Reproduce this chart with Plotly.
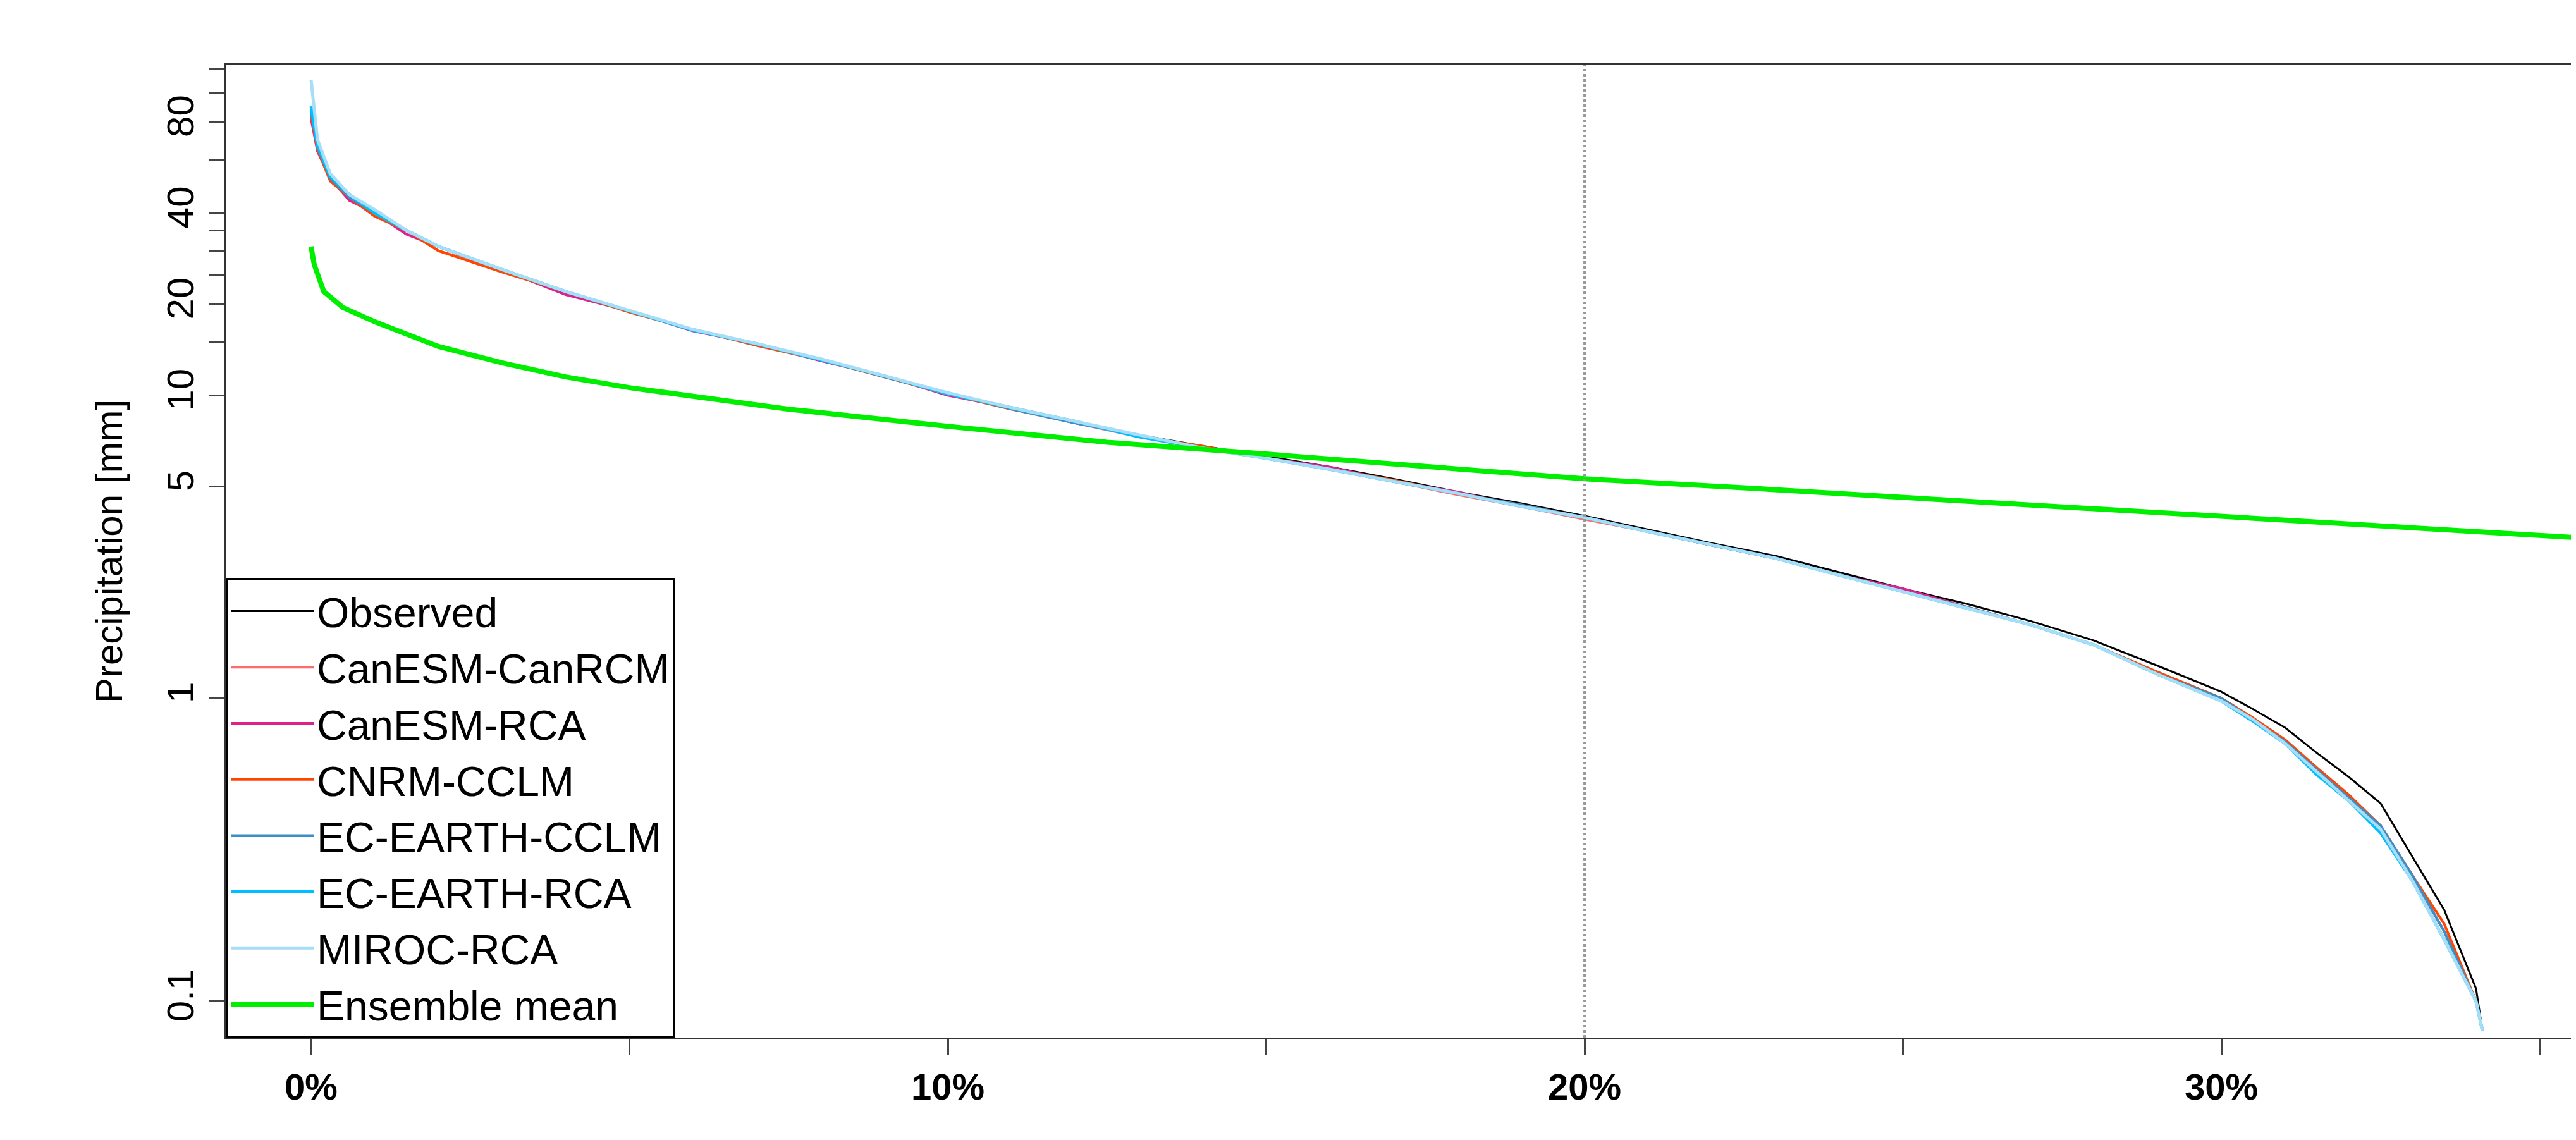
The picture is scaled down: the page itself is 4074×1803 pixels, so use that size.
import plotly.graph_objects as go

# exceedance (% of days) and precipitation (mm)
pct = [0, 0.1, 0.3, 0.6, 1, 1.5, 2, 3, 4, 5, 6, 7, 8, 9, 10, 11, 12, 13, 14, 15,
       16, 17, 18, 19, 20, 21, 22, 23, 24, 25, 26, 27, 28, 29, 30, 30.5, 31, 31.5,
       32, 32.5, 33, 33.5, 34, 34.1]
observed = [85, 65, 52, 45, 40, 35, 31, 26, 22, 19, 16.5, 14.8, 13.2, 11.6, 10.2, 9.1,
            8.2, 7.4, 6.8, 6.3, 5.8, 5.3, 4.8, 4.4, 4.0, 3.6, 3.25, 2.95, 2.6, 2.3,
            2.05, 1.8, 1.55, 1.28, 1.05, 0.92, 0.8, 0.66, 0.55, 0.45, 0.3, 0.2, 0.11, 0.08]
canesm_canrcm = [88, 66, 53, 45, 39, 35, 30, 26, 22, 19, 16.4, 14.7, 13.1, 11.5, 10.1, 9.0,
                 8.1, 7.3, 6.7, 6.2, 5.7, 5.2, 4.7, 4.3, 3.9, 3.55, 3.2, 2.9, 2.55, 2.25,
                 2.0, 1.75, 1.5, 1.22, 1.0, 0.86, 0.72, 0.58, 0.47, 0.38, 0.26, 0.17, 0.1, 0.08]
canesm_rca = [82, 64, 52, 44, 40, 34, 31, 26, 21.5, 19, 16.3, 14.8, 13.0, 11.6, 10.0, 9.1,
              8.1, 7.4, 6.7, 6.2, 5.8, 5.2, 4.8, 4.3, 3.95, 3.55, 3.2, 2.9, 2.55, 2.3,
              2.0, 1.75, 1.5, 1.2, 1.0, 0.85, 0.72, 0.57, 0.46, 0.37, 0.25, 0.16, 0.1, 0.08]
cnrm_cclm = [84, 65, 51, 45, 39, 35, 30, 25.5, 22, 18.8, 16.5, 14.6, 13.1, 11.5, 10.1, 9.0,
             8.2, 7.3, 6.8, 6.2, 5.7, 5.25, 4.75, 4.35, 3.95, 3.55, 3.2, 2.9, 2.55, 2.25,
             2.0, 1.75, 1.5, 1.22, 1.0, 0.86, 0.73, 0.59, 0.48, 0.38, 0.26, 0.18, 0.1, 0.08]
ec_earth_cclm = [86, 66, 52, 45, 40, 35, 31, 26, 22, 19, 16.5, 14.7, 13.2, 11.5, 10.2, 9.0,
                 8.1, 7.4, 6.7, 6.2, 5.7, 5.2, 4.75, 4.35, 3.95, 3.55, 3.2, 2.9, 2.55, 2.25,
                 2.0, 1.75, 1.5, 1.2, 1.0, 0.85, 0.72, 0.58, 0.47, 0.38, 0.26, 0.17, 0.1, 0.08]
ec_earth_rca = [90, 67, 53, 46, 40, 35, 31, 26, 22, 19, 16.4, 14.8, 13.1, 11.6, 10.1, 9.1,
                8.2, 7.3, 6.7, 6.2, 5.7, 5.2, 4.75, 4.3, 3.95, 3.55, 3.2, 2.9, 2.55, 2.25,
                1.98, 1.75, 1.5, 1.2, 0.98, 0.84, 0.71, 0.56, 0.46, 0.36, 0.25, 0.16, 0.1, 0.08]
miroc_rca = [110, 70, 54, 46, 41, 35, 31, 26, 22, 19, 16.5, 14.8, 13.2, 11.6, 10.2, 9.1,
             8.2, 7.4, 6.7, 6.2, 5.7, 5.2, 4.75, 4.3, 3.95, 3.55, 3.2, 2.9, 2.55, 2.25,
             1.98, 1.75, 1.5, 1.2, 0.98, 0.85, 0.71, 0.57, 0.46, 0.37, 0.25, 0.16, 0.1, 0.08]

pct_ens = [0, 0.05, 0.2, 0.5, 1, 2, 3, 4, 5, 7.5, 10, 12.5, 15, 17.5, 20, 22.5, 25,
           27.5, 30, 32.5, 35.5]
ensemble = [31, 27, 22, 19.5, 17.5, 14.5, 12.8, 11.5, 10.6, 9.0, 7.9, 7.0, 6.4, 5.8,
            5.3, 4.95, 4.6, 4.3, 4.0, 3.7, 3.4]

series = [
    ("Observed", observed, "black", 3),
    ("CanESM-CanRCM", canesm_canrcm, "#FF6A6A", 4),
    ("CanESM-RCA", canesm_rca, "#E0218A", 4),
    ("CNRM-CCLM", cnrm_cclm, "#FF4500", 4),
    ("EC-EARTH-CCLM", ec_earth_cclm, "#3A8FC8", 4),
    ("EC-EARTH-RCA", ec_earth_rca, "#00BFFF", 5),
    ("MIROC-RCA", miroc_rca, "#A6DDF7", 5),
]

fig = go.Figure()
for name, vals, col, w in series:
    fig.add_trace(go.Scatter(x=pct, y=vals, mode="lines", name=name,
                             line=dict(color=col, width=w)))
fig.add_trace(go.Scatter(x=pct_ens, y=ensemble, mode="lines", name="Ensemble mean",
                         line=dict(color="#00EE00", width=8)))

fig.add_vline(x=20, line=dict(color="#999999", width=4, dash="dot"))

ytv = [0.1, 1, 5, 10, 15, 20, 25, 30, 35, 40, 60, 80, 100, 120]
ylab = {0.1: "0.1", 1: "1", 5: "5", 10: "10", 20: "20", 40: "40", 80: "80"}

fig.update_layout(
    width=4074, height=1803,
    paper_bgcolor="white", plot_bgcolor="white",
    margin=dict(l=350, r=15, t=95, b=170),
    font=dict(family="Liberation Sans, Arial", size=58, color="black"),
    showlegend=True,
    legend=dict(x=0, y=0, xanchor="left", yanchor="bottom",
                bordercolor="black", borderwidth=3, bgcolor="white",
                font=dict(size=66), itemwidth=130, tracegroupgap=0),
    xaxis=dict(range=[-1.33, 35.5], tickvals=[0, 5, 10, 15, 20, 25, 30, 35],
               ticktext=["<b>0%</b>", "", "<b>10%</b>", "", "<b>20%</b>", "",
                         "<b>30%</b>", ""],
               ticks="outside", ticklen=25, tickwidth=3, showgrid=False,
               zeroline=False, showline=True, linecolor="#333", linewidth=3,
               mirror=True, tickfont=dict(size=58)),
    yaxis=dict(type="log", range=[-1.12, 2.09], tickvals=ytv,
               ticktext=[ylab.get(v, "") for v in ytv], tickangle=-90,
               ticks="outside", ticklen=25, tickwidth=3, showgrid=False,
               showline=True, linecolor="#333", linewidth=3, mirror=True,
               title=dict(text="Precipitation [mm]", font=dict(size=60), standoff=40),
               tickfont=dict(size=60)),
)

fig.write_html("out.html")
